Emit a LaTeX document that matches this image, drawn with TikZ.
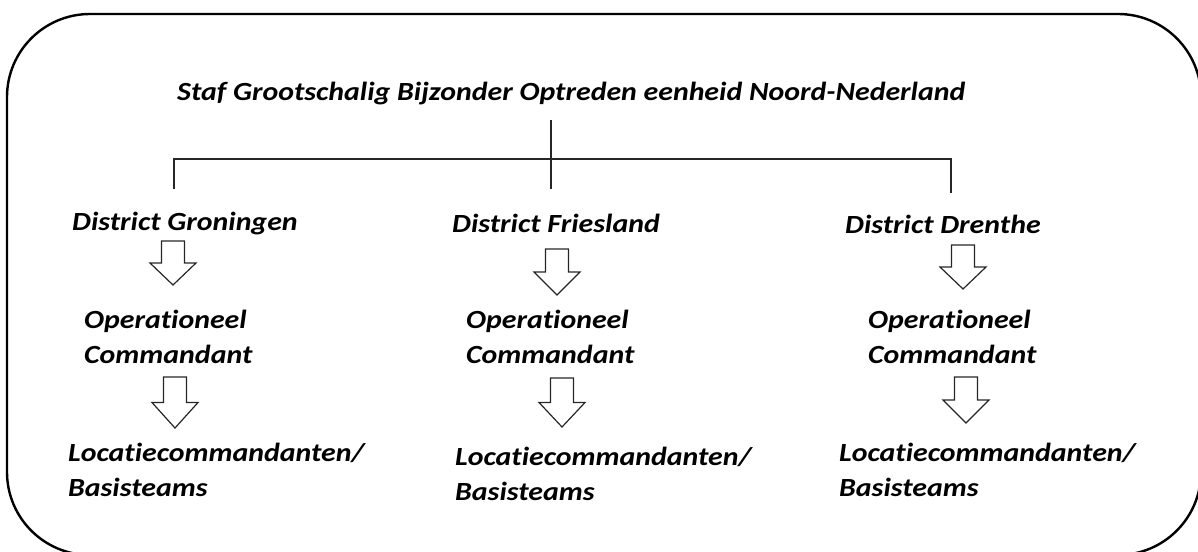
\documentclass[tikz,border=0pt]{standalone}
\usepackage{fontspec}
\setmainfont[FakeStretch=1.14, Ligatures={NoCommon}]{Carlito}
\usetikzlibrary{calc}
\tikzset{
  lbl/.style={anchor=base west, inner sep=0pt, font=\fontsize{26.2}{35}\selectfont\bfseries\itshape, text=black, align=left},
  conn/.style={line width=1.6pt, draw=black!85},
  blockarrow/.style={line width=1.2pt, draw=black!85, line join=miter},
  frame/.style={line width=2.4pt, draw=black, rounded corners=83pt}
}
\newcommand\barrow[2]{%
  \draw[blockarrow] ($(#1)+(-11.5,0)$) -- ($(#1)+(11.5,0)$)
    -- ($(#1)!0.5!(#2)+(11.5,0)$) -- ($(#1)!0.5!(#2)+(23,0)$)
    -- (#2) -- ($(#1)!0.5!(#2)+(-23,0)$) -- ($(#1)!0.5!(#2)+(-11.5,0)$) -- cycle;}
\begin{document}
\begin{tikzpicture}[x=1pt,y=-1pt]
\useasboundingbox (0,0) rectangle (1198,551);
\clip (0,0) rectangle (1198,551);
\draw[frame] (7,14) rectangle (1201,555);

\node[lbl] (staf) at (177,100) {Staf Grootschalig Bijzonder Optreden eenheid Noord-Nederland};

\node[lbl] (dg) at (72,230) {District Groningen};
\node[lbl] (df) at (452,232) {District Friesland};
\node[lbl] (dd) at (845,233) {District Drenthe};

% multi-line nodes: base anchor = baseline of the last line
\node[lbl] (og) at (84,363) {Operationeel\\Commandant};
\node[lbl] (of) at (466,363) {Operationeel\\Commandant};
\node[lbl] (od) at (868,363) {Operationeel\\Commandant};

\node[lbl] (lg) at (68,496) {Locatiecommandanten/\\Basisteams};
\node[lbl] (lf) at (455,500) {Locatiecommandanten/\\Basisteams};
\node[lbl] (ld) at (839,496) {Locatiecommandanten/\\Basisteams};

% tree connectors
\coordinate (top) at (551,120);
\coordinate (mid) at (551,159);
\coordinate (midb) at (551,189);
\coordinate (hl) at (174,159);
\coordinate (hr) at (951,159);
\coordinate (gl) at (174,189);
\coordinate (dr) at (951,193);
\draw[conn] (top) -- (midb);
\draw[conn] (gl) -- (hl) -- (hr) -- (dr);

% block arrows
\coordinate (g1t) at (173,241); \coordinate (g1b) at (173,285);
\coordinate (g2t) at (175,377); \coordinate (g2b) at (175,428);
\coordinate (f1t) at (557,249); \coordinate (f1b) at (557,295);
\coordinate (f2t) at (562,378); \coordinate (f2b) at (562,427);
\coordinate (d1t) at (963,245); \coordinate (d1b) at (963,289);
\coordinate (d2t) at (966,377); \coordinate (d2b) at (966,423);
\barrow{g1t}{g1b}
\barrow{g2t}{g2b}
\barrow{f1t}{f1b}
\barrow{f2t}{f2b}
\barrow{d1t}{d1b}
\barrow{d2t}{d2b}
\end{tikzpicture}
\end{document}
